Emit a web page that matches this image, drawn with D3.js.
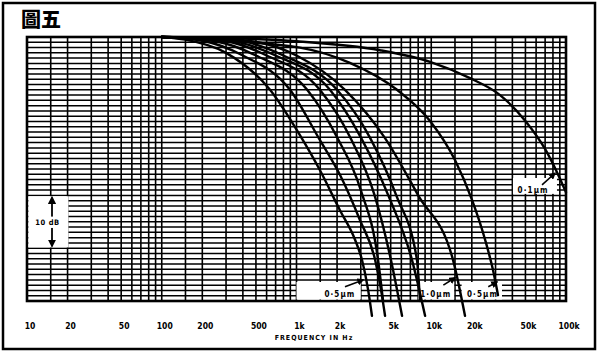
<!DOCTYPE html>
<html><head><meta charset="utf-8">
<script src="https://cdn.jsdelivr.net/npm/d3@7/dist/d3.min.js"></script>
<style>
html,body{margin:0;padding:0;background:#fff;}
text{font-family:"DejaVu Sans Condensed","DejaVu Sans",sans-serif;font-weight:bold;fill:#000;}
</style></head>
<body><svg id="c" width="600" height="356"></svg>
<script>
const tickValues = [10,20,50,100,200,500,1000,2000,5000,10000,20000,50000,100000];
const tickLabels = ["10","20","50","100","200","500","1k","2k","5k","10k","20k","50k","100k"];
const gridMantissas = [1,1.5,2,3,4,5,6,7,8,9];
const dbLines = d3.range(0,51,1);

// curves: [frequency Hz, level dB]
const curveA = [[100,0],[300,-0.2],[1000,-0.8],[4170,-2.5],[9800,-4.7],[19400,-7.8],[32400,-11.0],[49600,-15.8],[69900,-21.2],[85700,-25.6],[100000,-29.4]];
const curveB = [[100,0],[192,-0.4],[1060,-2.0],[2490,-4.9],[5570,-10],[9800,-15.9],[15000,-23.3],[20100,-30.9],[25100,-38.4],[28700,-44.1],[31300,-48.9]];
const curveC1 = [[100,0],[150,-0.5],[300,-3],[636,-10],[1060,-18.6],[1490,-25.2],[2100,-32.8],[2720,-38.4],[3060,-42.2],[3400,-47.9],[3630,-52.8]];
const curveC2 = [[100,0],[200,-0.7],[400,-3.5],[895,-10],[1490,-19.5],[2100,-26.1],[2960,-34.7],[3830,-42.2],[4240,-47.9],[4540,-52.8]];
const curveC3 = [[100,0],[250,-0.8],[500,-3.5],[1200,-10],[2000,-19],[3000,-29],[4030,-42.2],[4390,-50]];
const curveC4 = [[100,0],[300,-0.8],[600,-3.5],[1490,-10],[2500,-19],[3800,-30],[5000,-42],[6070,-52.8]];
const curveC5 = [[100,0],[300,-0.6],[700,-3.5],[1770,-10],[3000,-19],[4800,-30],[7190,-42.2],[9000,-52.8]];
const curveC6 = [[100,0],[350,-0.6],[800,-3.5],[2000,-10],[3500,-19],[5500,-30],[7830,-42.2],[8250,-50]];
const curveC7 = [[100,0],[400,-0.6],[1000,-3.5],[2290,-10],[4500,-19],[8000,-30],[14500,-42.2],[17800,-52.8]];
const curves = [curveA,curveB,curveC1,curveC2,curveC3,curveC4,curveC5,curveC6,curveC7];

// labels: text, box [f0,f1,db0,db1], text anchor [f,db], arrow from [f,db] to [f,db]
const labelTexts = ["0·1μm","0·5μm","1·0μm","0·5μm"];
const labelBoxes = [[40400,85700,-26.7,-30],[1000,3000,-46.4,-50],[8000,14800,-46.4,-50],[16800,33500,-46.4,-50]];
const labelAnchors = [[57000,-29.5],[2100,-49.2],[10800,-49.2],[24000,-49.2]];
const labelArrows = [[[66400,-28.0],[82800,-25.8]],[[2290,-47.3],[3120,-46.0]],[[12300,-47.0],[15000,-45.6]],[[26500,-47.3],[30800,-46.4]]];

const svg = d3.select("#c");
svg.append("rect").attr("width",600).attr("height",356).attr("fill","#fff");
svg.append("rect").attr("x",3).attr("y",3).attr("width",592).attr("height",346)
  .attr("fill","none").attr("stroke","#000").attr("stroke-width",2.5);
svg.append("text").attr("x",21).attr("y",27).attr("font-size",20)
  .style("font-family","'Noto Sans CJK TC',sans-serif").style("font-weight","900").text("圖五");

const x = d3.scaleLog().domain([10,100000]).range([27,566]);
const y = d3.scaleLinear().domain([0,-50]).range([37,301]);

const g = svg.append("g");
// grid
const vlines = [];
[10,100,1000,10000].forEach(d=>gridMantissas.forEach(m=>vlines.push(d*m)));
vlines.push(100000);
g.selectAll(".v").data(vlines).join("line")
  .attr("x1",d=>x(d)).attr("x2",d=>x(d)).attr("y1",y(0)).attr("y2",y(-50))
  .attr("stroke","#000").attr("stroke-width",1.6);
g.selectAll(".h").data(dbLines).join("line")
  .attr("x1",x(10)).attr("x2",x(100000)).attr("y1",d=>y(-d)).attr("y2",d=>y(-d))
  .attr("stroke","#000").attr("stroke-width",1.5);
g.append("rect").attr("x",x(10)).attr("y",y(0)).attr("width",x(100000)-x(10)).attr("height",y(-50)-y(0))
  .attr("fill","none").attr("stroke","#000").attr("stroke-width",2.6);

// 10 dB box
const dbBox = [-30,-40];
g.append("rect").attr("x",x(10)+1.4).attr("y",y(dbBox[0])+0.8).attr("width",40).attr("height",y(dbBox[1])-y(dbBox[0])-1.6)
  .attr("fill","#fff");
// label boxes
labelBoxes.forEach(b=>{
  g.append("rect").attr("x",x(b[0])).attr("y",y(b[2])).attr("width",x(b[1])-x(b[0])).attr("height",y(b[3])-y(b[2])-1.5)
   .attr("fill","#fff");
});

const line = d3.line().x(d=>x(d[0])).y(d=>y(d[1])).curve(d3.curveMonotoneX);
g.selectAll(".crv").data(curves).join("path")
  .attr("d",line).attr("fill","none").attr("stroke","#000").attr("stroke-width",2.4).attr("stroke-linecap","round");

// 10 dB marker
const ax = x(10)+25;
svg.append("defs").html('<marker id="ah" viewBox="0 0 10 10" refX="8" refY="5" markerWidth="4.5" markerHeight="4.5" orient="auto"><path d="M0,0L10,5L0,10z" fill="#000"/></marker>');
g.append("line").attr("x1",ax).attr("x2",ax).attr("y1",y(-35)-5).attr("y2",y(dbBox[0])+2).attr("stroke","#000").attr("stroke-width",1.8).attr("marker-end","url(#ah)");
g.append("line").attr("x1",ax).attr("x2",ax).attr("y1",y(-35)+6).attr("y2",y(dbBox[1])-2).attr("stroke","#000").attr("stroke-width",1.8).attr("marker-end","url(#ah)");
g.append("rect").attr("x",ax-16).attr("y",y(-35)-5).attr("width",24).attr("height",11).attr("fill","#fff");
g.append("text").attr("x",ax-4.5).attr("y",y(-35)+3.5).attr("text-anchor","middle").attr("font-size",7.5).attr("letter-spacing",0.6).text("10 dB");

// labels
labelBoxes.forEach((b,i)=>{
  const t = labelAnchors[i];
  g.append("text").attr("x",x(t[0])).attr("y",y(t[1])).attr("font-size",8)
   .attr("letter-spacing",1.1).attr("text-anchor","middle").text(labelTexts[i]);
  const a = labelArrows[i];
  g.append("line").attr("x1",x(a[0][0])).attr("y1",y(a[0][1])).attr("x2",x(a[1][0])).attr("y2",y(a[1][1]))
   .attr("stroke","#000").attr("stroke-width",1.6).attr("marker-end","url(#ah)");
});

// axis tick labels
const axis = d3.axisBottom(x).tickValues(tickValues).tickFormat((d,i)=>tickLabels[i]).tickSize(0);
const ag = svg.append("g").attr("transform",`translate(2.5,${320})`).call(axis);
ag.select(".domain").remove();
ag.selectAll("text").attr("font-size",8.5).style("font-family","'DejaVu Sans Condensed','DejaVu Sans',sans-serif").style("font-weight","bold").attr("fill","#000");
svg.append("text").attr("x",314).attr("y",340).attr("text-anchor","middle").attr("font-size",7).attr("letter-spacing",1).text("FREQUENCY IN Hz");
</script></body></html>
